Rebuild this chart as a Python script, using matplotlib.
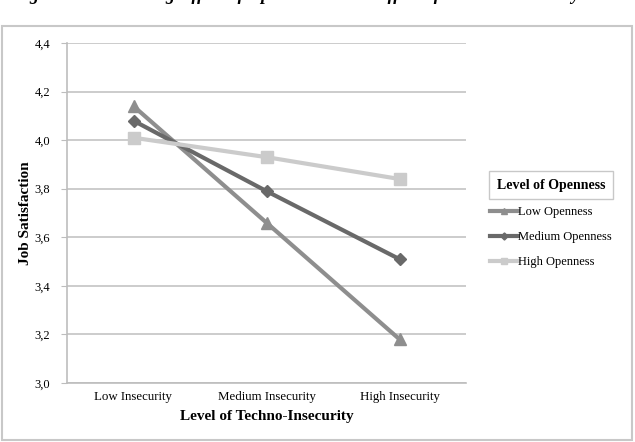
import matplotlib.pyplot as plt
from matplotlib.patches import Rectangle
from matplotlib.lines import Line2D

categories = ["Low Insecurity", "Medium Insecurity", "High Insecurity"]
low_openness = [4.14, 3.66, 3.18]
medium_openness = [4.08, 3.79, 3.51]
high_openness = [4.01, 3.93, 3.84]
series_names = ["Low Openness", "Medium Openness", "High Openness"]
y_ticks = [3.0, 3.2, 3.4, 3.6, 3.8, 4.0, 4.2, 4.4]

plt.rcParams['font.family'] = ['Liberation Serif', 'DejaVu Serif']

fig = plt.figure(figsize=(6.35, 4.42), dpi=100)

# outer chart frame
fig.patches.append(Rectangle((2 / 635, 2 / 442), 630 / 635, 414 / 442,
                             transform=fig.transFigure, fill=False,
                             edgecolor='#c8c8c8', linewidth=1.5))

# caption line, mostly cut off by the crop at the top
fig.text(0.02, 1.0, "Figure 4: Moderating Effect of Openness on the Effect of Techno-Insecurity",
         fontsize=13, fontweight='bold', fontstyle='italic', va='baseline', ha='left')

ax = fig.add_axes([67 / 635, 1 - 383 / 442, 399 / 635, 340 / 442])

x = range(len(categories))
styles = [
    (low_openness, '#8e8e8e', '^', 8),
    (medium_openness, '#696969', 'D', 6),
    (high_openness, '#cbcbcb', 's', 8),
]
handles = []
for (vals, col, mk, ms), name in zip(styles, series_names):
    ax.plot(x, vals, color=col, linewidth=3.0, marker=mk, markersize=ms,
            markerfacecolor=col, markeredgecolor=col, solid_capstyle='butt', zorder=3)
    handles.append(Line2D([0], [0], color=col, linewidth=3.0, marker=mk,
                          markersize=ms * 0.6, markerfacecolor=col, markeredgecolor=col))

ax.set_xlim(-0.5, 2.5)
ax.set_ylim(3.0, 4.4)
ax.set_yticks(y_ticks)
ax.set_yticklabels([f"{v:.1f}".replace('.', ',') for v in y_ticks], fontsize=9)
ax.set_xticks(list(x))
ax.set_xticklabels(categories, fontsize=9.3)
ax.tick_params(axis='x', length=0, pad=6)
ax.tick_params(axis='y', length=4, color='#bdbdbd', pad=8)
ax.grid(axis='y', color='#c4c4c4', linewidth=1.2)
ax.set_axisbelow(True)
for s in ['top', 'right']:
    ax.spines[s].set_visible(False)
for s in ['left', 'bottom']:
    ax.spines[s].set_color('#bdbdbd')
    ax.spines[s].set_linewidth(1.2)

ax.set_xlabel("Level of Techno-Insecurity", fontsize=11, fontweight='bold', labelpad=5)
ax.set_ylabel("Job Satisfaction", fontsize=11, fontweight='bold', labelpad=2)

# legend title in its own box
fig.text(551 / 635, 1 - 185 / 442, "Level of Openness", fontsize=10, fontweight='bold',
         ha='center', va='center',
         bbox=dict(boxstyle='square,pad=0.55', facecolor='white', edgecolor='#c8c8c8', linewidth=1))

fig.legend(handles, series_names, loc='upper left', bbox_to_anchor=(485 / 635, 1 - 201 / 442),
           frameon=False, fontsize=9, handlelength=2.2, handletextpad=0.0,
           labelspacing=1.05, borderaxespad=0)

plt.savefig("out.png", dpi=100)
